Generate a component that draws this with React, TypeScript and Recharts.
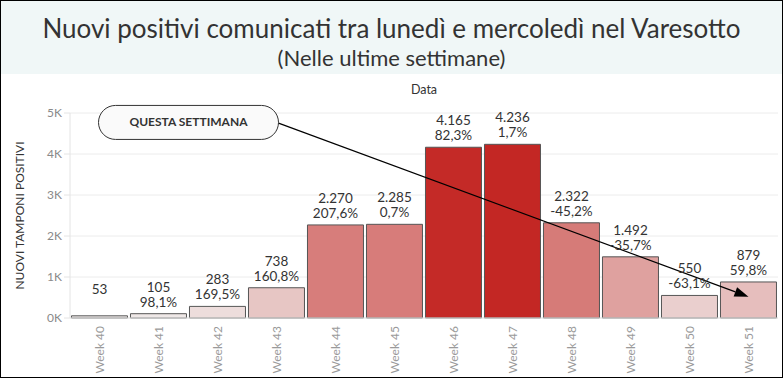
import { ComposedChart, Bar, XAxis, YAxis, CartesianGrid, Cell, LabelList, ReferenceLine, ReferenceDot } from "recharts";

const weeks = ["Week 40", "Week 41", "Week 42", "Week 43", "Week 44", "Week 45", "Week 46", "Week 47", "Week 48", "Week 49", "Week 50", "Week 51"];
const positives = [53, 105, 283, 738, 2270, 2285, 4165, 4236, 2322, 1492, 550, 879];
const changes = ["", "98,1%", "169,5%", "160,8%", "207,6%", "0,7%", "82,3%", "1,7%", "-45,2%", "-35,7%", "-63,1%", "59,8%"];
const yTicks = [0, 1000, 2000, 3000, 4000, 5000];

const data = weeks.map((w, i) => ({ week: w, value: positives[i], change: changes[i] }));

const FONT = "Lato, 'Open Sans', sans-serif";
const maxVal = Math.max(...positives);

// sequential red scale, light -> dark
const colorFor = (v: number) => {
  const t = Math.pow(v / maxVal, 0.9);
  const a = [241, 239, 238];
  const b = [195, 39, 36];
  const c = a.map((x, i) => Math.round(x + (b[i] - x) * t));
  return `rgb(${c[0]},${c[1]},${c[2]})`;
};

const fmt = (v: number) => v.toLocaleString("de-DE");

const BarLabel = (props: any) => {
  const { x, y, width, index } = props;
  const cx = x + width / 2;
  const d = data[index];
  return (
    <g fontFamily={FONT} fontSize={13.5} fill="#333" textAnchor="middle">
      <text x={cx} y={y - 22}>{fmt(d.value)}</text>
      {d.change && <text x={cx} y={y - 7}>{d.change}</text>}
    </g>
  );
};

const WeekTick = (props: any) => {
  const { x, payload } = props;
  const px = x + 4;
  const py = 326;
  return (
    <text
      x={px}
      y={py}
      transform={`rotate(-90, ${px}, ${py})`}
      textAnchor="end"
      fontFamily={FONT}
      fontSize={12}
      fill="#9a9a9a"
    >
      {payload.value}
    </text>
  );
};

const Arrow = (props: any) => {
  const { x1, y1, x2, y2 } = props;
  const ang = Math.atan2(y2 - y1, x2 - x1);
  const L = 14;
  const W = 5;
  const bx = x2 - L * Math.cos(ang);
  const by = y2 - L * Math.sin(ang);
  const p1 = `${bx + W * Math.sin(ang)},${by - W * Math.cos(ang)}`;
  const p2 = `${bx - W * Math.sin(ang)},${by + W * Math.cos(ang)}`;
  return (
    <g>
      <line x1={x1} y1={y1} x2={bx} y2={by} stroke="#000" strokeWidth={1.2} />
      <polygon points={`${x2},${y2} ${p1} ${p2}`} fill="#000" />
    </g>
  );
};

const Callout = (props: any) => {
  const { cx, cy } = props;
  return (
    <g>
      <rect x={cx - 178} y={cy - 17} width={180} height={34} rx={17} ry={17} fill="#fafafa" stroke="#333" strokeWidth={1} />
      <text x={cx - 88} y={cy + 4} textAnchor="middle" fontFamily={FONT} fontSize={12} fontWeight={700} fill="#333">
        QUESTA SETTIMANA
      </text>
    </g>
  );
};

export default function App() {
  return (
    <div style={{ position: "absolute", left: 0, top: 0, width: 783, height: 378, background: "#fff", overflow: "hidden" }}>
      <div style={{ position: "absolute", left: 0, top: 0 }}>
        <ComposedChart width={783} height={378} data={data} margin={{ top: 113, right: 5, bottom: 0, left: 0 }} barCategoryGap="2.5%">
          <CartesianGrid vertical={false} stroke="#ececec" />
          <XAxis dataKey="week" height={60} tick={<WeekTick />} tickLine={false} axisLine={{ stroke: "#e4e4e4" }} interval={0} />
          <YAxis
            width={70}
            domain={[0, 5000]}
            ticks={yTicks}
            tickFormatter={(v: number) => `${v / 1000}K`}
            tick={{ fontFamily: FONT, fontSize: 12, fill: "#8a8a8a" }}
            tickLine={{ stroke: "#e4e4e4" }}
            axisLine={{ stroke: "#e4e4e4" }}
            label={{ value: "NUOVI TAMPONI POSITIVI", angle: -90, position: "insideLeft", offset: 20, style: { fontFamily: FONT, fontSize: 12, fill: "#333", textAnchor: "middle" } }}
          />
          <Bar dataKey="value" isAnimationActive={false} stroke="#555" strokeWidth={1}>
            {data.map((d) => (
              <Cell key={d.week} fill={colorFor(d.value)} />
            ))}
            <LabelList dataKey="value" content={<BarLabel />} />
          </Bar>
          <ReferenceLine segment={[{ x: "Week 43", y: 4770 }, { x: "Week 51", y: 520 }]} shape={<Arrow />} ifOverflow="visible" />
          <ReferenceDot x="Week 43" y={4770} shape={<Callout />} ifOverflow="visible" />
        </ComposedChart>
      </div>
      <div
        style={{
          position: "absolute",
          left: 0,
          top: 0,
          width: 783,
          height: 74,
          background: "#f0f7f7",
          fontFamily: FONT,
          color: "#333",
          textAlign: "center",
        }}
      >
        <div style={{ fontSize: 26, lineHeight: "30px", paddingTop: 13 }}>Nuovi positivi comunicati tra lunedì e mercoledì nel Varesotto</div>
        <div style={{ fontSize: 22, lineHeight: "26px", marginTop: 2 }}>(Nelle ultime settimane)</div>
      </div>
      <div style={{ position: "absolute", left: 70, width: 708, top: 82, textAlign: "center", fontFamily: FONT, fontSize: 12.5, color: "#333" }}>Data</div>
      <div style={{ position: "absolute", left: 0, top: 0, width: 783, height: 378, border: "1px solid #000", boxSizing: "border-box", pointerEvents: "none" }} />
    </div>
  );
}
